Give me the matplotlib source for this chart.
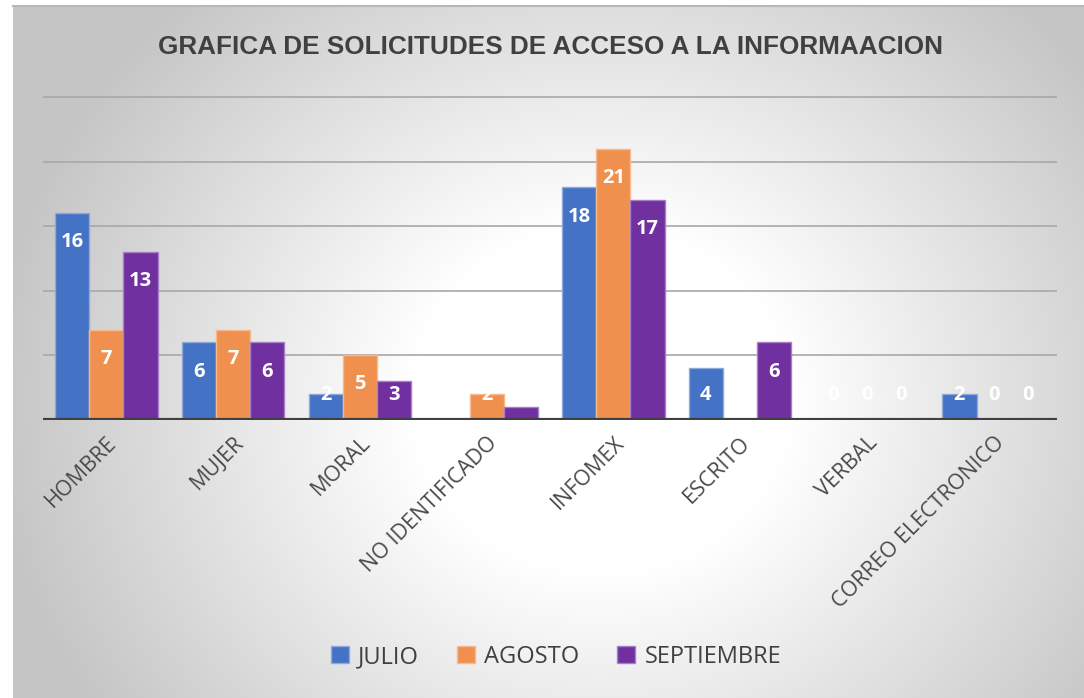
import numpy as np
import matplotlib
matplotlib.use("Agg")
import matplotlib.pyplot as plt
from matplotlib.patches import Patch

categorias = ['HOMBRE', 'MUJER', 'MORAL', 'NO IDENTIFICADO', 'INFOMEX',
              'ESCRITO', 'VERBAL', 'CORREO ELECTRONICO']
julio = [16, 6, 2, 0, 18, 4, 0, 2]
agosto = [7, 7, 5, 2, 21, 0, 0, 0]
septiembre = [13, 6, 3, 1, 17, 6, 0, 0]
series = ['JULIO', 'AGOSTO', 'SEPTIEMBRE']
colores = ['#4472C4', '#F0904F', '#7030A0']
bordes = ['#8FA9DB', '#F6B98E', '#A87FC6']

W, H = 1084, 698
fig = plt.figure(figsize=(W / 100, H / 100), dpi=100)
fig.patch.set_facecolor('white')

# fondo con degradado radial
bg = fig.add_axes([13 / W, 0, 1 - 13 / W, 1 - 6 / H], zorder=0)
yy, xx = np.mgrid[6:H, 13:W]
d = np.hypot(xx - 600, (yy - 400) * 1.1)
g = 255 - 58 * np.clip((d - 190) / 420, 0, 1)
g = g / 255.0
bg.imshow(np.dstack([g, g, g]), aspect='auto', interpolation='bilinear')
bg.axis('off')
fig.add_artist(plt.Line2D([13 / W, 1], [1 - 6 / H, 1 - 6 / H], color='#B8B8B8', lw=1.5))

ymax = 25.5
ppu = (420 - 97) / 25
ax = fig.add_axes([43 / W, (H - 420) / H, 1014 / W, ymax * ppu / H], zorder=1)
ax.set_facecolor('none')

x = np.arange(len(categorias))
w = 0.27
datos = [julio, agosto, septiembre]
for j, vals in enumerate(datos):
    xs = x + (j - 1) * w
    ax.bar(xs, vals, width=w, color=colores[j], edgecolor=bordes[j], linewidth=1, zorder=3)
    for xi, v in zip(xs, vals):
        ax.text(xi, max(v - 2.25, 1.94), str(v), ha='center', va='center',
                color='white', fontsize=14.5, fontweight='bold', family='Open Sans', zorder=4)

ax.set_xlim(-0.5, len(categorias) - 0.5)
ax.set_ylim(0, ymax)
ax.set_yticks([5, 10, 15, 20, 25])
ax.set_yticklabels([])
ax.tick_params(axis='y', length=0)
ax.grid(axis='y', color='#A8A8A8', lw=1.2, zorder=1)
ax.axhline(0, color='#404040', lw=3, zorder=5)
for s in ax.spines.values():
    s.set_visible(False)
ax.set_xticks(x)
ax.set_xticklabels(categorias, rotation=45, ha='right', va='top', rotation_mode='anchor',
                   color='#4A4A4A', fontsize=15.5, family='Open Sans')
ax.tick_params(axis='x', length=0, pad=9)

fig.text(550 / W, 1 - 47 / H, 'GRAFICA DE SOLICITUDES DE ACCESO A LA INFORMAACION',
         ha='center', va='center', fontsize=18.8, fontweight='bold', color='#404040',
         family=['Liberation Sans', 'DejaVu Sans'])

handles = [Patch(facecolor=colores[i], edgecolor=bordes[i], label=series[i]) for i in range(3)]
fig.legend(handles=handles, loc='center', bbox_to_anchor=(556 / W, 1 - 657 / H), ncol=3,
           frameon=False, prop={'family': 'Open Sans', 'size': 17}, labelcolor='#404040',
           handlelength=0.75, handleheight=0.75, handletextpad=0.4, columnspacing=1.6)

fig.savefig('out.png', dpi=100)
